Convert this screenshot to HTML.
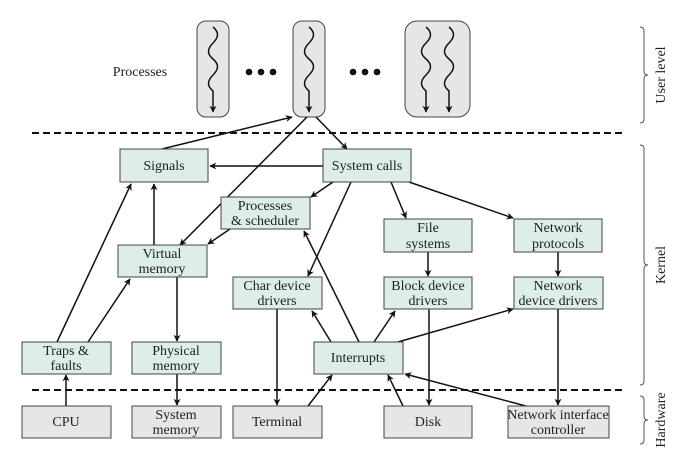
<!DOCTYPE html>
<html><head><meta charset="utf-8"><style>
html,body{margin:0;padding:0;background:#fff;}
svg{display:block;}
text{font-family:"Liberation Serif",serif;font-size:14px;fill:#222;}
.g{fill:#dcedea;stroke:#444;stroke-width:1;}
.h{fill:#e6e6e6;stroke:#444;stroke-width:1;}
.l{stroke:#111;stroke-width:1.5;fill:none;marker-end:url(#a);}
</style></head><body>
<svg width="686" height="452" viewBox="0 0 686 452" xmlns="http://www.w3.org/2000/svg">
<defs>
<marker id="a" viewBox="0 0 10 10" refX="9" refY="5" markerWidth="7" markerHeight="7" orient="auto" markerUnits="userSpaceOnUse"><path d="M0,0 L10,5 L0,10 L3,5 z" fill="#111"/></marker>
</defs>
<text x="140" y="76" text-anchor="middle">Processes</text>
<rect x="197" y="21" width="32" height="96" rx="9" class="h"/>
<rect x="293" y="21" width="32" height="96" rx="9" class="h"/>
<rect x="405" y="21" width="65" height="96" rx="12" class="h"/>
<g class="l">
<path d="M213,27 c6,5 6,10 0,16 c-6,6 -6,11 0,16 c6,5 6,10 0,16 c-6,6 -6,11 0,16 l0,21"/>
<path d="M309,27 c6,5 6,10 0,16 c-6,6 -6,11 0,16 c6,5 6,10 0,16 c-6,6 -6,11 0,16 l0,21"/>
<path d="M426,27 c6,5 6,10 0,16 c-6,6 -6,11 0,16 c6,5 6,10 0,16 c-6,6 -6,11 0,16 l0,21"/>
<path d="M449,27 c6,5 6,10 0,16 c-6,6 -6,11 0,16 c6,5 6,10 0,16 c-6,6 -6,11 0,16 l0,21"/>
</g>
<g fill="#111"><circle cx="249" cy="72" r="3.3"/><circle cx="261" cy="72" r="3.3"/><circle cx="273" cy="72" r="3.3"/>
<circle cx="353" cy="72" r="3.3"/><circle cx="365" cy="72" r="3.3"/><circle cx="377" cy="72" r="3.3"/></g>
<line x1="32" y1="133" x2="626" y2="133" stroke="#111" stroke-width="2" stroke-dasharray="7,4"/>
<line x1="32" y1="390" x2="626" y2="390" stroke="#111" stroke-width="2" stroke-dasharray="7,4"/>
<g fill="none" stroke="#555" stroke-width="1">
<path d="M640,27 q4,0 4,4 v40 q0,4 4,4 q-4,0 -4,4 v40 q0,4 -4,4"/>
<path d="M640,145 q4,0 4,4 v112 q0,4 4,4 q-4,0 -4,4 v112 q0,4 -4,4"/>
<path d="M640,396 q4,0 4,4 v16 q0,4 4,4 q-4,0 -4,4 v16 q0,4 -4,4"/>
</g>
<text transform="translate(665,75) rotate(-90)" text-anchor="middle">User level</text>
<text transform="translate(665,265) rotate(-90)" text-anchor="middle">Kernel</text>
<text transform="translate(665,420) rotate(-90)" text-anchor="middle">Hardware</text>
<g class="l">
<line x1="162" y1="149" x2="292" y2="117"/>
<line x1="307" y1="117" x2="180" y2="245"/>
<line x1="316" y1="117" x2="347" y2="149"/>
<line x1="323" y1="166" x2="210" y2="166"/>
<line x1="333" y1="182" x2="311" y2="197"/>
<line x1="351" y1="182" x2="308" y2="276"/>
<line x1="391" y1="182" x2="406" y2="218"/>
<line x1="409" y1="182" x2="513" y2="218"/>
<line x1="230" y1="229" x2="208" y2="244"/>
<line x1="57" y1="342" x2="131" y2="184"/>
<line x1="154" y1="245" x2="154" y2="184"/>
<line x1="88" y1="342" x2="130" y2="279"/>
<line x1="177" y1="277" x2="177" y2="341"/>
<line x1="177" y1="373" x2="177" y2="405"/>
<line x1="66" y1="406" x2="66" y2="375"/>
<line x1="277" y1="309" x2="277" y2="405"/>
<line x1="308" y1="406" x2="332" y2="375"/>
<line x1="331" y1="342" x2="312" y2="311"/>
<line x1="359" y1="342" x2="304" y2="231"/>
<line x1="374" y1="342" x2="395" y2="311"/>
<line x1="398" y1="342" x2="513" y2="309"/>
<line x1="429" y1="309" x2="429" y2="405"/>
<line x1="403" y1="406" x2="388" y2="375"/>
<line x1="526" y1="406" x2="405" y2="374"/>
<line x1="558" y1="309" x2="558" y2="405"/>
<line x1="428" y1="252" x2="428" y2="276"/>
<line x1="558" y1="252" x2="558" y2="276"/>
</g>
<rect x="120" y="149" width="88" height="33" class="g"/><text x="164" y="170" text-anchor="middle">Signals</text>
<rect x="323" y="149" width="88" height="33" class="g"/><text x="367" y="170" text-anchor="middle">System calls</text>
<rect x="221" y="197" width="89" height="32" class="g"/><text x="265" y="210" text-anchor="middle">Processes</text><text x="265" y="225" text-anchor="middle">&amp; scheduler</text>
<rect x="384" y="219" width="88" height="33" class="g"/><text x="428" y="232" text-anchor="middle">File</text><text x="428" y="248" text-anchor="middle">systems</text>
<rect x="514" y="219" width="88" height="33" class="g"/><text x="558" y="232" text-anchor="middle">Network</text><text x="558" y="248" text-anchor="middle">protocols</text>
<rect x="118" y="245" width="89" height="32" class="g"/><text x="162" y="258" text-anchor="middle">Virtual</text><text x="162" y="273" text-anchor="middle">memory</text>
<rect x="233" y="277" width="89" height="32" class="g"/><text x="277" y="290" text-anchor="middle">Char device</text><text x="277" y="305" text-anchor="middle">drivers</text>
<rect x="384" y="277" width="88" height="32" class="g"/><text x="428" y="290" text-anchor="middle">Block device</text><text x="428" y="305" text-anchor="middle">drivers</text>
<rect x="514" y="277" width="89" height="32" class="g"/><text x="558" y="290" text-anchor="middle">Network</text><text x="558" y="305" text-anchor="middle">device drivers</text>
<rect x="22" y="342" width="89" height="32" class="g"/><text x="66" y="355" text-anchor="middle">Traps &amp;</text><text x="66" y="370" text-anchor="middle">faults</text>
<rect x="132" y="342" width="89" height="32" class="g"/><text x="176" y="355" text-anchor="middle">Physical</text><text x="176" y="370" text-anchor="middle">memory</text>
<rect x="314" y="342" width="89" height="32" class="g"/><text x="358" y="362" text-anchor="middle">Interrupts</text>
<rect x="22" y="406" width="89" height="32" class="h"/><text x="66" y="426" text-anchor="middle">CPU</text>
<rect x="132" y="406" width="89" height="32" class="h"/><text x="176" y="419" text-anchor="middle">System</text><text x="176" y="434" text-anchor="middle">memory</text>
<rect x="233" y="406" width="89" height="32" class="h"/><text x="277" y="426" text-anchor="middle">Terminal</text>
<rect x="384" y="406" width="88" height="32" class="h"/><text x="428" y="426" text-anchor="middle">Disk</text>
<rect x="508" y="406" width="101" height="32" class="h"/><text x="558" y="419" text-anchor="middle">Network interface</text><text x="558" y="434" text-anchor="middle">controller</text>
</svg>
</body></html>
